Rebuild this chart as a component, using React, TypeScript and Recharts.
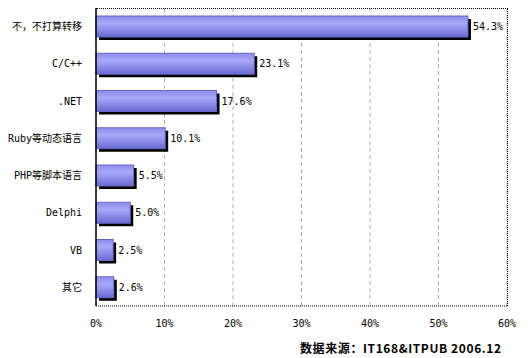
import React from "react";
import { BarChart, Bar, XAxis, YAxis, CartesianGrid, LabelList } from "recharts";

const categories = ["不，不打算转移", "C/C++", ".NET", "Ruby等动态语言", "PHP等脚本语言", "Delphi", "VB", "其它"];
const shares = [54.3, 23.1, 17.6, 10.1, 5.5, 5.0, 2.5, 2.6];
const xTicks = [0, 10, 20, 30, 40, 50, 60];

const data = categories.map((name, i) => ({ name, value: shares[i] }));

const FONT = "'DejaVu Sans Mono', 'Noto Sans CJK SC', monospace";

// bar with a black drop shadow, like the old excel export
function ShadowBar(props: any) {
  const { x, y, width, height } = props;
  if (!width || width <= 0) return null;
  return (
    <g>
      <rect x={x + 3} y={y + 3} width={width} height={height} fill="#000000" />
      <rect x={x} y={y} width={width} height={height} fill="url(#barFill)" stroke="#6666c8" strokeWidth={1} />
    </g>
  );
}

export default function App() {
  return (
    <div style={{ position: "absolute", left: 0, top: 0, width: 532, height: 358, background: "#ffffff", fontFamily: FONT }}>
      <BarChart
        width={532}
        height={358}
        data={data}
        layout="vertical"
        barCategoryGap={8}
        margin={{ top: 8, right: 25, left: 6, bottom: 32 }}
      >
        <defs>
          <linearGradient id="barFill" x1="0" y1="0" x2="0" y2="1">
            <stop offset="0%" stopColor="#8c8ce8" />
            <stop offset="35%" stopColor="#a8a8fc" />
            <stop offset="100%" stopColor="#6a6ad0" />
          </linearGradient>
        </defs>
        <CartesianGrid horizontal={false} stroke="#b0b0b0" strokeDasharray="4 3" />
        <XAxis
          type="number"
          domain={[0, 60]}
          ticks={xTicks}
          tickFormatter={(v: number) => `${v}%`}
          axisLine={{ stroke: "#000", strokeDasharray: "1 1" }}
          tickLine={false}
          tick={{ fontSize: 10, fill: "#000", fontFamily: FONT }}
          tickMargin={8}
          height={20}
        />
        <YAxis
          type="category"
          dataKey="name"
          width={90}
          axisLine={{ stroke: "#000", strokeWidth: 1.5 }}
          tickLine={false}
          tick={{ fontSize: 10, fill: "#000", fontFamily: FONT }}
          tickMargin={8}
        />
        <Bar dataKey="value" shape={ShadowBar} isAnimationActive={false}>
          <LabelList
            dataKey="value"
            position="right"
            offset={5}
            formatter={(v: number) => `${v.toFixed(1)}%`}
            style={{ fontSize: 10, fill: "#000", fontFamily: FONT }}
          />
        </Bar>
      </BarChart>
      {/* dotted frame on top and right of plot */}
      <div style={{ position: "absolute", left: 96, top: 8, width: 411, height: 297, borderTop: "1px dotted #000", borderRight: "1px dotted #000" }} />
      <div style={{ position: "absolute", left: 300, top: 339, fontSize: 12, fontWeight: "bold", letterSpacing: 0.6, fontFamily: "'Noto Sans CJK SC', sans-serif", color: "#000", whiteSpace: "nowrap" }}>
        数据来源：IT168&amp;ITPUB 2006.12
      </div>
    </div>
  );
}
